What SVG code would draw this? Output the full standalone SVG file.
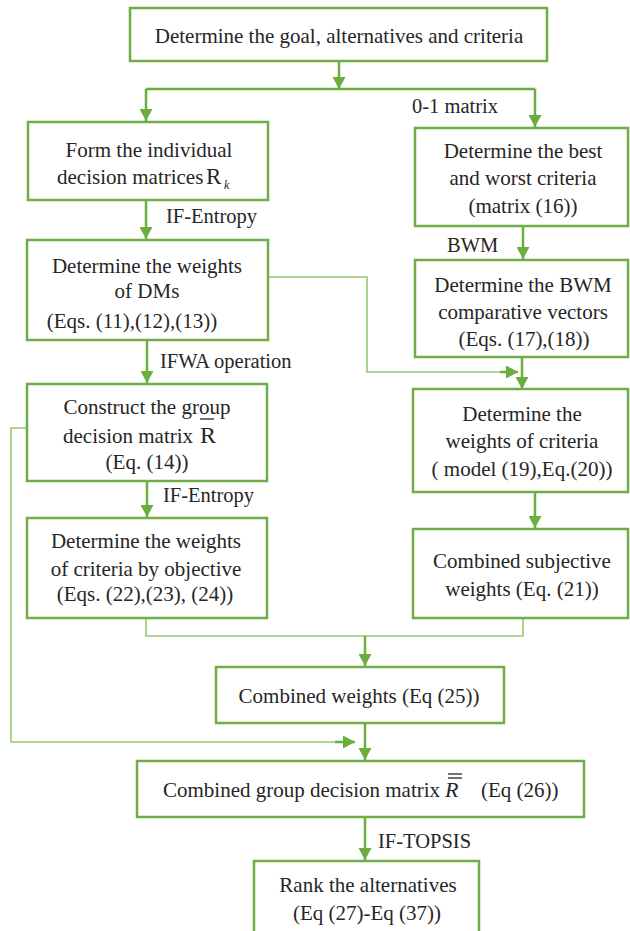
<svg xmlns="http://www.w3.org/2000/svg" width="630" height="931" viewBox="0 0 630 931">
<style>
.box{fill:#fff;stroke:#70ad47;stroke-width:2.5}
.t{font-family:'Liberation Serif','DejaVu Serif',serif;font-size:21px;fill:#262626;text-anchor:middle}
.s{text-anchor:start}
.l{font-family:'Liberation Serif','DejaVu Serif',serif;font-size:20.5px;fill:#262626}
.a{fill:none;stroke:#6aae3f;stroke-width:2.5}
.th{fill:none;stroke:#94c973;stroke-width:1.6}
.bar{stroke:#262626;stroke-width:1.3}
</style>
<defs>
<marker id="ah" viewBox="0 0 12 13" refX="12" refY="6.5" markerWidth="12" markerHeight="13" markerUnits="userSpaceOnUse" orient="auto">
<path d="M0,0 L12,6.5 L0,13 z" fill="#6aae3f"/>
</marker>
</defs>
<rect width="630" height="931" fill="#fff"/>

<g id="connectors">
<path class="a" d="M339,61 V89" marker-end="url(#ah)"/>
<path class="a" d="M535,89 H146"/>
<path class="a" d="M146,89 V121" marker-end="url(#ah)"/>
<path class="a" d="M535,89 V127" marker-end="url(#ah)"/>
<path class="a" d="M146,200 V239" marker-end="url(#ah)"/>
<path class="a" d="M523,226 V259" marker-end="url(#ah)"/>
<path class="th" d="M268,277 H367 V372 H505"/>
<path class="a" d="M500,372 H518" marker-end="url(#ah)"/>
<path class="a" d="M522,357 V389" marker-end="url(#ah)"/>
<path class="a" d="M147,340 V383" marker-end="url(#ah)"/>
<path class="a" d="M147,481 V517" marker-end="url(#ah)"/>
<path class="a" d="M535,492 V528" marker-end="url(#ah)"/>
<path class="th" d="M27,428 H11 V742 H340"/>
<path class="a" d="M335,742 H355" marker-end="url(#ah)"/>
<path class="th" d="M146,618 V636 H523 V618"/>
<path class="a" d="M365,636 V666" marker-end="url(#ah)"/>
<path class="a" d="M365,723 V760" marker-end="url(#ah)"/>
<path class="a" d="M365,817 V860" marker-end="url(#ah)"/>
<text class="l" x="412" y="113">0-1 matrix</text>
<text class="l" x="166" y="223">IF-Entropy</text>
<text class="l" x="447" y="252">BWM</text>
<text class="l" x="160" y="368">IFWA operation</text>
<text class="l" x="163" y="502">IF-Entropy</text>
<text class="l" x="378" y="848">IF-TOPSIS</text>
</g>

<g id="goal">
<rect class="box" x="130" y="8" width="417" height="53"/>
<text class="t" x="339" y="43">Determine the goal, alternatives and criteria</text>
</g>

<g id="individual">
<rect class="box" x="28" y="122" width="240" height="78"/>
<text class="t" x="149" y="157">Form the individual</text>
<text class="t s" x="57" y="184">decision matrices</text>
<text class="t s" x="206" y="184" style="font-size:23px">R</text>
<text class="t s" x="224" y="189" style="font-size:12px;font-style:italic">k</text>
</g>

<g id="bestworst">
<rect class="box" x="415" y="128" width="213" height="98"/>
<text class="t" x="523" y="158">Determine the best</text>
<text class="t" x="523" y="185">and worst criteria</text>
<text class="t" x="523" y="213">(matrix (16))</text>
</g>

<g id="dmweights">
<rect class="box" x="27" y="240" width="241" height="100"/>
<text class="t" x="147" y="273">Determine the weights</text>
<text class="t" x="147" y="298">of DMs</text>
<text class="t" x="132" y="328">(Eqs. (11),(12),(13))</text>
</g>

<g id="bwmvectors">
<rect class="box" x="415" y="260" width="213" height="97"/>
<text class="t" x="523" y="292">Determine the BWM</text>
<text class="t" x="523" y="319">comparative vectors</text>
<text class="t" x="524" y="346">(Eqs. (17),(18))</text>
</g>

<g id="criteriaweights">
<rect class="box" x="413" y="389" width="215" height="103"/>
<text class="t" x="522" y="421">Determine the</text>
<text class="t" x="522" y="448">weights of criteria</text>
<text class="t" x="522" y="476">( model (19),Eq.(20))</text>
</g>

<g id="groupmatrix">
<rect class="box" x="27" y="384" width="240" height="97"/>
<text class="t" x="147" y="414">Construct the group</text>
<text class="t s" x="63" y="443">decision matrix</text>
<text class="t s" x="200" y="443" style="font-size:24px">R</text>
<line class="bar" x1="200" y1="419" x2="214" y2="419"/>
<text class="t" x="147" y="469">(Eq. (14))</text>
</g>

<g id="objective">
<rect class="box" x="27" y="518" width="240" height="100"/>
<text class="t" x="146" y="548">Determine the weights</text>
<text class="t" x="146" y="576">of criteria by objective</text>
<text class="t" x="145" y="601">(Eqs. (22),(23), (24))</text>
</g>

<g id="subjective">
<rect class="box" x="413" y="529" width="215" height="89"/>
<text class="t" x="522" y="568">Combined subjective</text>
<text class="t" x="522" y="596">weights (Eq. (21))</text>
</g>

<g id="combinedweights">
<rect class="box" x="216" y="667" width="288" height="56"/>
<text class="t" x="359" y="703">Combined weights  (Eq (25))</text>
</g>

<g id="combinedmatrix">
<rect class="box" x="137" y="761" width="447" height="56"/>
<text class="t s" x="163" y="797">Combined group decision matrix</text>
<text class="t s" x="445" y="797" style="font-style:italic;font-size:22px">R</text>
<line class="bar" x1="448" y1="774" x2="462" y2="774"/>
<line class="bar" x1="448" y1="778" x2="462" y2="778"/>
<text class="t s" x="481" y="797">(Eq (26))</text>
</g>

<g id="rank">
<rect class="box" x="254" y="861" width="225" height="80"/>
<text class="t" x="368" y="892">Rank the alternatives</text>
<text class="t" x="367" y="920">(Eq (27)-Eq (37))</text>
</g>
</svg>
